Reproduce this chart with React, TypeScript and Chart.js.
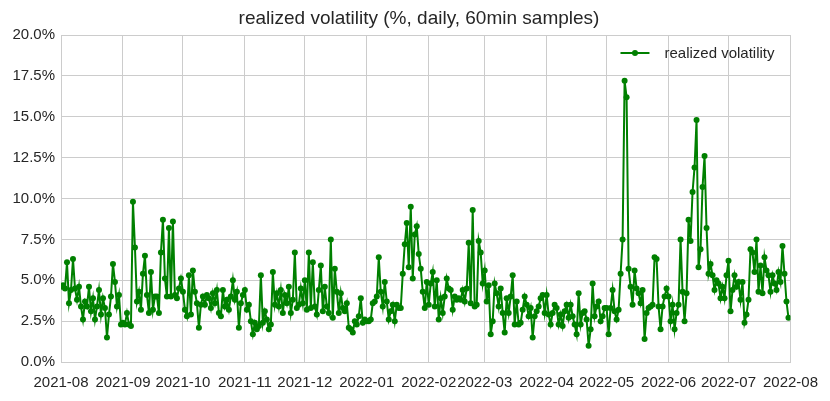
import React, { useEffect, useRef } from "react";
import { Chart, registerables } from "chart.js";

Chart.register(...registerables);

const TITLE = "realized volatility (%, daily, 60min samples)";
const SERIES_LABEL = "realized volatility";

const monthLabels = [
  "2021-08", "2021-09", "2021-10", "2021-11", "2021-12", "2022-01", "2022-02",
  "2022-03", "2022-04", "2022-05", "2022-06", "2022-07", "2022-08",
];

const yTicks = [0, 2.5, 5, 7.5, 10, 12.5, 15, 17.5, 20];

const aug21 = [4.6, 4.7, 4.5, 6.1, 3.6, 4.4, 6.3, 4.5, 3.8, 4.6, 3.4, 2.6, 3.7, 3.4, 4.6, 3.1, 3.9, 2.6, 3.4, 4.4, 2.9, 3.9, 3.3, 1.5, 2.9, 4.0, 6.0, 4.9, 3.4, 4.1, 2.3];
const sep21 = [2.4, 2.3, 3.0, 2.3, 2.2, 9.8, 7.0, 3.7, 4.3, 3.2, 5.4, 6.5, 4.1, 3.0, 5.5, 3.2, 4.0, 4.0, 3.0, 6.7, 8.7, 5.1, 4.0, 8.2, 4.0, 8.6, 4.1, 3.9, 4.5, 5.1];
const oct21 = [4.3, 3.2, 2.8, 5.3, 2.9, 5.6, 4.3, 3.6, 2.1, 3.5, 4.0, 3.5, 4.1, 3.9, 3.3, 4.2, 3.6, 4.4, 3.0, 2.8, 4.4, 3.4, 3.8, 3.2, 4.0, 5.0, 3.8, 4.3, 2.1, 3.6, 4.1];
const nov21 = [4.4, 3.2, 3.5, 2.5, 1.7, 2.4, 2.0, 2.2, 5.3, 2.4, 3.1, 2.6, 2.0, 2.3, 5.5, 3.5, 4.2, 3.4, 4.4, 3.0, 4.1, 3.6, 4.6, 3.0, 3.8, 6.7, 3.3, 3.5, 4.5, 3.6];
const dec21 = [5.0, 3.2, 6.7, 3.3, 6.1, 3.4, 2.9, 4.4, 5.9, 3.1, 4.6, 3.4, 3.0, 7.5, 2.7, 5.7, 4.3, 3.0, 4.2, 3.3, 3.1, 3.6, 2.1, 2.0, 1.8, 2.5, 2.3, 2.8, 3.9, 2.4, 2.6];
const jan22 = [2.5, 2.5, 2.6, 3.6, 3.7, 4.0, 6.4, 4.3, 3.4, 4.9, 3.7, 2.6, 3.1, 3.5, 2.5, 3.5, 3.3, 3.3, 5.4, 7.2, 8.5, 5.8, 9.5, 5.1, 7.8, 8.3, 6.6, 5.7, 4.3, 3.3, 4.9];
const feb22 = [3.5, 4.8, 5.5, 3.4, 5.0, 2.6, 3.9, 3.0, 4.0, 5.1, 4.5, 4.4, 3.2, 4.0, 3.8, 3.9, 3.8, 4.4, 3.7, 4.5, 7.3, 3.6, 9.3, 3.4, 3.5, 7.4, 6.7, 4.8];
const mar22 = [5.6, 3.7, 4.7, 1.7, 2.5, 4.8, 4.2, 3.4, 4.5, 3.0, 1.8, 3.9, 3.0, 4.0, 5.3, 2.3, 3.7, 2.3, 2.4, 3.2, 4.0, 3.5, 2.8, 3.3, 1.5, 2.8, 3.1, 3.4, 3.9, 4.1, 3.0];
const apr22 = [4.1, 2.9, 2.3, 3.0, 3.5, 3.3, 2.3, 2.9, 2.2, 3.1, 3.5, 2.7, 3.5, 2.8, 2.3, 1.7, 4.2, 2.3, 3.0, 3.1, 2.6, 1.0, 2.0, 4.8, 2.8, 3.4, 3.7, 2.5, 2.8, 3.3];
const may22 = [3.3, 1.7, 3.3, 4.4, 3.1, 2.6, 3.2, 5.4, 7.5, 17.2, 16.2, 5.7, 4.6, 3.5, 5.6, 4.5, 4.2, 3.6, 4.4, 1.4, 3.0, 3.3, 3.4, 3.5, 6.4, 6.3, 3.4, 2.0, 3.4, 4.0, 4.5];
const jun22 = [4.0, 2.5, 3.5, 2.0, 3.0, 3.5, 7.5, 4.3, 2.5, 4.2, 8.7, 7.4, 10.4, 11.9, 14.8, 5.8, 6.9, 10.7, 12.6, 8.2, 5.4, 6.0, 5.3, 4.4, 5.0, 4.8, 3.9, 4.6, 3.9, 5.3];
const jul22 = [6.2, 3.1, 4.4, 5.3, 4.6, 4.9, 3.8, 4.9, 2.4, 2.9, 3.8, 6.9, 6.7, 5.5, 7.5, 4.3, 5.9, 4.2, 6.4, 5.6, 5.3, 4.3, 5.3, 4.8, 4.4, 5.5, 4.9, 7.1, 5.4, 3.7, 2.7];

const volatility = [
  ...aug21, ...sep21, ...oct21, ...nov21, ...dec21, ...jan22,
  ...feb22, ...mar22, ...apr22, ...may22, ...jun22, ...jul22,
];

const DAY = 86400000;
const START = Date.UTC(2021, 7, 1);
const dayOf = (label: string) => {
  const [y, m] = label.split("-").map(Number);
  return (Date.UTC(y, m - 1, 1) - START) / DAY;
};
const monthDays = monthLabels.map(dayOf);

const FONT = "'Liberation Sans', Arial, Helvetica, sans-serif";
const TEXT = "#262626";
const GREEN = "#008000";
const GRID = "#cccccc";

const overlayPlugin = {
  id: "overlay",
  afterDraw(chart: any) {
    const ctx = chart.ctx;
    const area = chart.chartArea;
    ctx.save();
    // title
    ctx.fillStyle = TEXT;
    ctx.font = `19px ${FONT}`;
    ctx.textAlign = "center";
    ctx.textBaseline = "middle";
    ctx.fillText(TITLE, 419, area.top - 16);
    // legend
    const y = area.top + 18;
    const x0 = area.right - 170;
    ctx.strokeStyle = GREEN;
    ctx.lineWidth = 2;
    ctx.beginPath();
    ctx.moveTo(x0, y);
    ctx.lineTo(x0 + 29, y);
    ctx.stroke();
    ctx.fillStyle = GREEN;
    ctx.beginPath();
    ctx.arc(x0 + 14.5, y, 3, 0, Math.PI * 2);
    ctx.fill();
    ctx.fillStyle = TEXT;
    ctx.font = `15px ${FONT}`;
    ctx.textBaseline = "middle";
    ctx.textAlign = "left";
    ctx.fillText(SERIES_LABEL, x0 + 44, y + 1);
    ctx.restore();
  },
};

export default function App() {
  const ref = useRef<HTMLCanvasElement>(null);

  useEffect(() => {
    if (!ref.current) return;
    const chart = new Chart(ref.current, {
      type: "line",
      data: {
        datasets: [
          {
            label: SERIES_LABEL,
            data: volatility.map((v, i) => ({ x: i, y: v })),
            borderColor: GREEN,
            backgroundColor: GREEN,
            borderWidth: 2,
            pointRadius: 3,
            pointBorderWidth: 0,
            pointBackgroundColor: GREEN,
            tension: 0,
          },
        ],
      },
      options: {
        responsive: false,
        animation: false,
        layout: { padding: { left: 0, right: 38, top: 35, bottom: 0 } },
        plugins: {
          legend: { display: false },
          tooltip: { enabled: false },
          title: { display: false },
        },
        scales: {
          x: {
            type: "linear",
            min: 0,
            max: monthDays[monthDays.length - 1],
            afterBuildTicks: (scale: any) => {
              scale.ticks = monthDays.map((d) => ({ value: d }));
            },
            afterFit: (scale: any) => {
              scale.height = 39;
            },
            ticks: {
              autoSkip: false,
              maxRotation: 0,
              minRotation: 0,
              padding: 12,
              color: TEXT,
              font: { family: FONT, size: 15 },
              callback: (v: any) => {
                const idx = monthDays.indexOf(Number(v));
                return idx >= 0 ? monthLabels[idx] : "";
              },
            },
            grid: { color: GRID, lineWidth: 1, drawTicks: false },
            border: { color: GRID, width: 1 },
          },
          y: {
            min: 0,
            max: 20,
            afterBuildTicks: (scale: any) => {
              scale.ticks = yTicks.map((v) => ({ value: v }));
            },
            afterFit: (scale: any) => {
              scale.width = 61;
            },
            ticks: {
              padding: 6,
              color: TEXT,
              font: { family: FONT, size: 15 },
              callback: (v: any) => Number(v).toFixed(1) + "%",
            },
            grid: { color: GRID, lineWidth: 1, drawTicks: false },
            border: { color: GRID, width: 1 },
          },
        },
      },
      plugins: [overlayPlugin],
    });
    return () => chart.destroy();
  }, []);

  return (
    <div style={{ position: "absolute", left: 0, top: 0, width: 830, height: 401, background: "#fff" }}>
      <canvas ref={ref} width={830} height={401} style={{ display: "block" }} />
    </div>
  );
}
